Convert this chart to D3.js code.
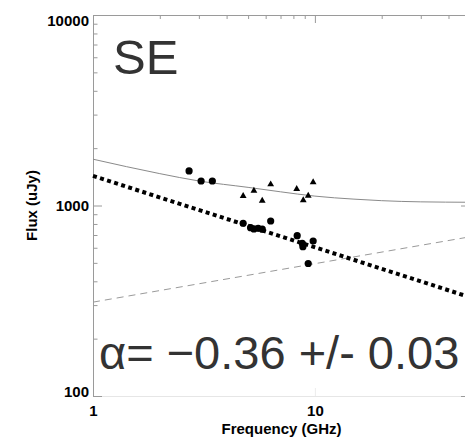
<!DOCTYPE html>
<html>
<head>
<meta charset="utf-8">
<script src="https://cdn.jsdelivr.net/npm/d3@7"></script>
<style>
  body { margin: 0; background: #fff; }
  text { font-family: "Liberation Sans", Arial, Helvetica, sans-serif; }
</style>
</head>
<body>
<div id="chart"></div>
<script>
// measured points (GHz, uJy)
const circleFreq = [2.71, 3.07, 3.45, 4.75, 5.13, 5.31, 5.55, 5.79, 6.32, 8.32, 8.77, 8.83, 9.33, 9.82];
const circleFlux = [1518, 1345, 1345, 807, 765, 753, 759, 751, 829, 694, 633, 608, 496, 651];
const triFreq = [4.75, 5.31, 5.79, 6.32, 8.28, 8.86, 9.33, 9.82];
const triFlux = [1122, 1196, 1060, 1292, 1221, 1065, 1126, 1324];

// model curves
const powerFreq = [1, 50];
const powerFlux = [1430, 330];
const thermalFreq = [1, 50];
const thermalFlux = [311, 685];
const totalFreq = [1, 2, 3, 5, 7, 10, 15, 20, 30, 50];
const totalFlux = [1750, 1470, 1345, 1245, 1180, 1120, 1080, 1060, 1045, 1040];

const xMajor = [1, 10];
const yMajor = [100, 1000, 10000];
const labelDy = {100: "0.05em", 1000: "0.32em", 10000: "0.68em"};

const W = 465, H = 441;
const margin = {top: 15, left: 93};
const plotW = 377, plotH = 381;

const svg = d3.select("#chart").append("svg")
  .attr("width", W).attr("height", H);

const x = d3.scaleLog().domain([1, 50]).range([margin.left, margin.left + plotW]);
const y = d3.scaleLog().domain([100, 10000]).range([margin.top + plotH, margin.top]);

const xMinor = x.ticks().filter(v => !xMajor.includes(v));
const yMinor = y.ticks().filter(v => !yMajor.includes(v));

const axisColor = "#9a9a9a";

function styleAxis(g, color) {
  g.selectAll(".domain").attr("stroke", color);
  g.selectAll(".tick line").attr("stroke", color);
  g.selectAll("text").attr("fill", "#000")
    .style("font-size", "15px").style("font-weight", "bold");
}

// top axis (ticks inward, no labels)
svg.append("g").attr("transform", `translate(0,${margin.top})`)
  .call(d3.axisTop(x).tickValues(xMinor).tickSize(-4).tickSizeOuter(0).tickFormat(""))
  .call(g => styleAxis(g, axisColor));
svg.append("g").attr("transform", `translate(0,${margin.top})`)
  .call(d3.axisTop(x).tickValues(xMajor).tickSize(-8).tickSizeOuter(0).tickFormat(""))
  .call(g => styleAxis(g, axisColor));

// bottom axis (very faint line, labels)
svg.append("g").attr("transform", `translate(0,${margin.top + plotH})`)
  .call(d3.axisBottom(x).tickValues(xMajor).tickSizeInner(-8).tickSizeOuter(0)
    .tickPadding(9).tickFormat(d3.format("d")))
  .call(g => styleAxis(g, "#ececec"))
  .call(g => g.select(".domain").attr("stroke", "#e6e6e6"));

// left axis
svg.append("g").attr("transform", `translate(${margin.left},0)`)
  .call(d3.axisLeft(y).tickValues(yMinor).tickSize(-4.5).tickSizeOuter(0).tickFormat(""))
  .call(g => styleAxis(g, axisColor));
svg.append("g").attr("transform", `translate(${margin.left},0)`)
  .call(d3.axisLeft(y).tickValues(yMajor).tickSize(-9).tickSizeOuter(0)
    .tickPadding(4).tickFormat(d3.format("d")))
  .call(g => styleAxis(g, axisColor))
  .call(g => g.selectAll("text").attr("dy", d => labelDy[d]));

// right axis (mostly outside the window)
svg.append("g").attr("transform", `translate(${margin.left + plotW},0)`)
  .call(d3.axisRight(y).tickValues(yMajor).tickSize(-9).tickSizeOuter(0).tickFormat(""))
  .call(g => styleAxis(g, axisColor));

const line = d3.line().x(d => x(d[0])).y(d => y(d[1]));

svg.append("path")
  .attr("d", line(thermalFreq.map((f, i) => [f, thermalFlux[i]])))
  .attr("fill", "none").attr("stroke", "#9a9a9a").attr("stroke-width", 1)
  .attr("stroke-dasharray", "7,5");

svg.append("path")
  .attr("d", line.curve(d3.curveMonotoneX)(totalFreq.map((f, i) => [f, totalFlux[i]])))
  .attr("fill", "none").attr("stroke", "#8a8a8a").attr("stroke-width", 1);

svg.append("path")
  .attr("d", d3.line().x(d => x(d[0])).y(d => y(d[1]))(powerFreq.map((f, i) => [f, powerFlux[i]])))
  .attr("fill", "none").attr("stroke", "#000").attr("stroke-width", 4)
  .attr("stroke-dasharray", "4,3.4");

svg.append("g").selectAll("circle")
  .data(circleFreq.map((f, i) => [f, circleFlux[i]]))
  .join("circle")
  .attr("cx", d => x(d[0])).attr("cy", d => y(d[1]))
  .attr("r", 3.6).attr("fill", "#000");

svg.append("g").selectAll("path")
  .data(triFreq.map((f, i) => [f, triFlux[i]]))
  .join("path")
  .attr("d", d3.symbol(d3.symbolTriangle, 20))
  .attr("transform", d => `translate(${x(d[0])},${y(d[1])})`)
  .attr("fill", "#000");

// axis titles
svg.append("text")
  .attr("x", x(Math.sqrt(50))).attr("y", 434)
  .attr("text-anchor", "middle")
  .style("font-size", "15px").style("font-weight", "bold")
  .text("Frequency (GHz)");

svg.append("text")
  .attr("transform", `translate(36.5,${margin.top + plotH / 2}) rotate(-90)`)
  .attr("text-anchor", "middle")
  .style("font-size", "15px").style("font-weight", "bold")
  .text("Flux (uJy)");

// annotations
svg.append("text")
  .attr("x", 113).attr("y", 74)
  .attr("fill", "#333")
  .style("font-size", "49px")
  .text("SE");

svg.append("text")
  .attr("x", 99).attr("y", 369)
  .attr("fill", "#333")
  .style("font-size", "47px")
  .text("\u03b1= \u22120.36 +/- 0.03");
</script>
</body>
</html>
